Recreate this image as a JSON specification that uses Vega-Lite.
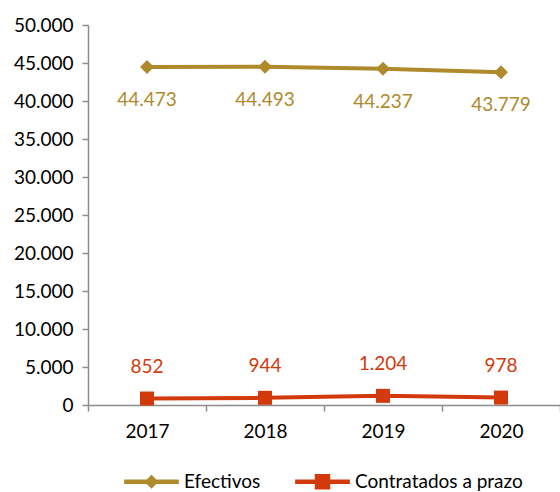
{
  "$schema": "https://vega.github.io/schema/vega-lite/v6.json",
  "width": 472,
  "height": 380,
  "autosize": {"type": "none"},
  "padding": {"left": 88, "top": 25, "right": 0, "bottom": 87},
  "background": "white",
  "config": {
    "view": {"stroke": null},
    "locale": {"number": {"decimal": ",", "thousands": ".", "grouping": [3], "currency": ["", " €"]}},
    "font": "Lato",
    "axis": {
      "domainColor": "#8c8c8c",
      "tickColor": "#8c8c8c",
      "domainWidth": 1.5,
      "tickWidth": 1.5,
      "grid": false,
      "labelFont": "Lato",
      "labelFontSize": 19,
      "labelColor": "#000000",
      "title": null
    }
  },
  "data": {
    "values": [
      {"year": "2017", "series": "Efectivos", "value": 44473},
      {"year": "2018", "series": "Efectivos", "value": 44493},
      {"year": "2019", "series": "Efectivos", "value": 44237},
      {"year": "2020", "series": "Efectivos", "value": 43779},
      {"year": "2017", "series": "Contratados a prazo", "value": 852},
      {"year": "2018", "series": "Contratados a prazo", "value": 944},
      {"year": "2019", "series": "Contratados a prazo", "value": 1204},
      {"year": "2020", "series": "Contratados a prazo", "value": 978}
    ]
  },
  "encoding": {
    "x": {
      "field": "year",
      "type": "ordinal",
      "scale": {"type": "band", "paddingInner": 0, "paddingOuter": 0},
      "axis": {"labelAngle": 0, "tickBand": "extent", "tickSize": 6, "labelPadding": 11, "title": null}
    },
    "y": {
      "field": "value",
      "type": "quantitative",
      "scale": {"domain": [0, 50000]},
      "axis": {
        "values": [0, 5000, 10000, 15000, 20000, 25000, 30000, 35000, 40000, 45000, 50000],
        "format": ",d",
        "tickSize": 6,
        "labelPadding": 9,
        "title": null
      }
    }
  },
  "layer": [
    {
      "mark": {"type": "line", "strokeWidth": 4},
      "encoding": {
        "color": {
          "field": "series",
          "type": "nominal",
          "scale": {"domain": ["Efectivos", "Contratados a prazo"], "range": ["#AF8A2C", "#D23A0B"]},
          "legend": {
            "orient": "none",
            "legendX": 54,
            "legendY": 447,
            "direction": "horizontal",
            "title": null,
            "labelFont": "Lato",
            "labelFontSize": 19,
            "labelColor": "#000000",
            "labelLimit": 400,
            "symbolSize": 196,
            "labelOffset": 23,
            "columnPadding": 31,
            "encode": {
              "symbols": {
                "update": {
                  "shape": {"signal": "datum.value === 'Efectivos' ? 'M-3.8,-0.2L3.8,-0.2L3.8,0.2L-3.8,0.2Z M0,-0.85L0.85,0L0,0.85L-0.85,0Z' : 'M-3.8,-0.2L3.8,-0.2L3.8,0.2L-3.8,0.2Z M-1,-1L1,-1L1,1L-1,1Z'"},
                  "fill": {"signal": "datum.value === 'Efectivos' ? '#AF8A2C' : '#D23A0B'"},
                  "stroke": {"value": "transparent"},
                  "opacity": {"value": 1}
                }
              }
            }
          }
        }
      }
    },
    {
      "transform": [{"filter": "datum.series === 'Efectivos'"}],
      "mark": {"type": "point", "shape": "diamond", "filled": true, "size": 196, "opacity": 1},
      "encoding": {"color": {"field": "series", "type": "nominal"}}
    },
    {
      "transform": [{"filter": "datum.series === 'Contratados a prazo'"}],
      "mark": {"type": "point", "shape": "square", "filled": true, "size": 196, "opacity": 1},
      "encoding": {"color": {"field": "series", "type": "nominal"}}
    },
    {
      "transform": [{"filter": "datum.series === 'Efectivos'"}],
      "mark": {"type": "text", "dy": 33, "fontSize": 19, "font": "Lato", "color": "#AF8A2C"},
      "encoding": {"text": {"field": "value", "type": "quantitative", "format": ",d"}}
    },
    {
      "transform": [{"filter": "datum.series === 'Contratados a prazo'"}],
      "mark": {"type": "text", "dy": -32, "fontSize": 19, "font": "Lato", "color": "#D23A0B"},
      "encoding": {"text": {"field": "value", "type": "quantitative", "format": ",d"}}
    }
  ]
}
